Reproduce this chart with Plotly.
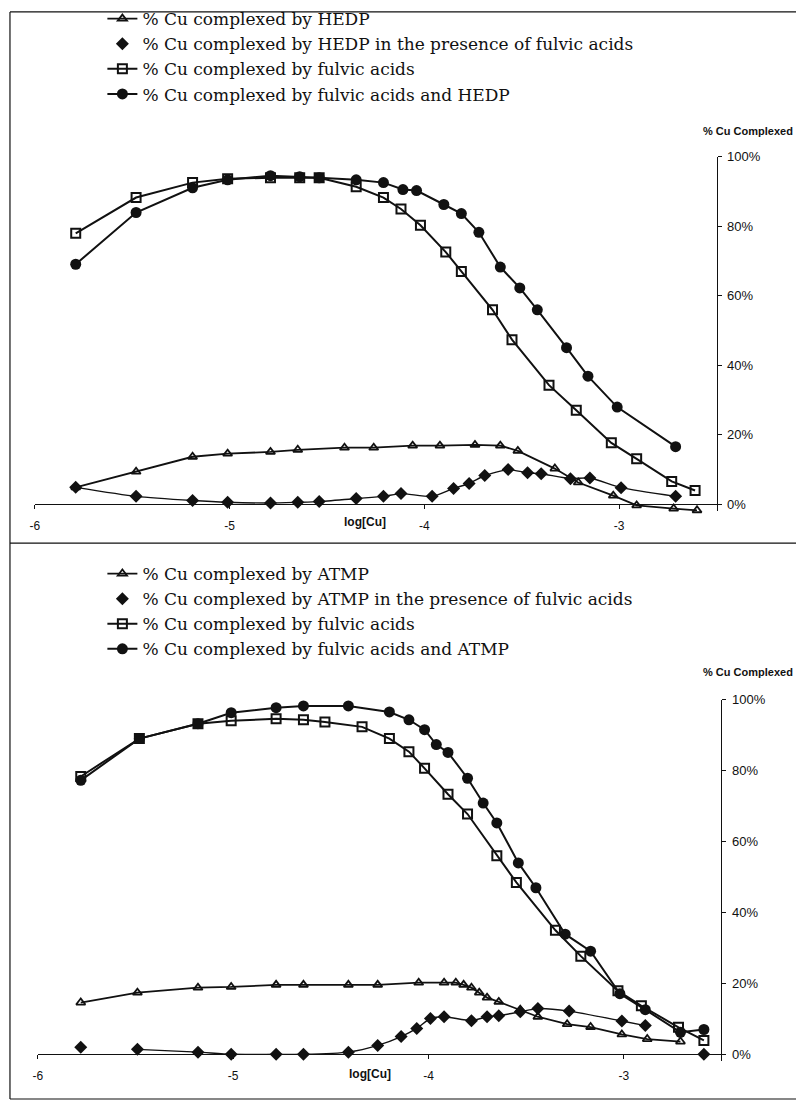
import plotly.graph_objects as go

W, H = 796, 1102

# ---------------- Data: top chart (HEDP) ----------------
hedp_x = [-5.79, -5.48, -5.19, -5.01, -4.79, -4.65, -4.41, -4.26, -4.06, -3.92,
          -3.74, -3.61, -3.52, -3.33, -3.21, -3.03, -2.91, -2.72, -2.60]
hedp_y = [4.9, 9.4, 13.7, 14.6, 15.1, 15.7, 16.3, 16.3, 16.9, 16.9,
          17.1, 16.9, 15.4, 10.3, 6.3, 2.5, -0.3, -1.2, -1.7]

hedp_fa_x = [-5.79, -5.48, -5.19, -5.01, -4.79, -4.65, -4.54, -4.35, -4.21, -4.12,
             -3.96, -3.85, -3.77, -3.69, -3.57, -3.47, -3.40, -3.25, -3.15, -2.99, -2.71]
hedp_fa_y = [4.9, 2.3, 1.1, 0.6, 0.4, 0.6, 0.8, 1.7, 2.3, 3.1,
             2.3, 4.6, 6.0, 8.3, 10.0, 9.1, 8.8, 7.4, 7.6, 4.8, 2.3]

fa1_x = [-5.79, -5.48, -5.19, -5.01, -4.79, -4.64, -4.54, -4.35, -4.21, -4.12,
         -4.02, -3.89, -3.81, -3.65, -3.55, -3.36, -3.22, -3.04, -2.91, -2.73, -2.61]
fa1_y = [78.0, 88.3, 92.6, 93.7, 94.0, 94.0, 94.0, 91.4, 88.3, 85.0,
         80.3, 72.6, 67.0, 56.0, 47.4, 34.3, 27.1, 17.7, 13.1, 6.6, 4.0]

fa_hedp_x = [-5.79, -5.48, -5.19, -5.01, -4.79, -4.64, -4.54, -4.35, -4.21, -4.11,
             -4.04, -3.90, -3.81, -3.72, -3.61, -3.51, -3.42, -3.27, -3.16, -3.01, -2.71]
fa_hedp_y = [69.1, 84.0, 91.1, 93.4, 94.6, 94.3, 94.0, 93.4, 92.6, 90.6,
             90.3, 86.3, 83.7, 78.3, 68.3, 62.3, 56.0, 45.1, 36.9, 28.0, 16.6]

# ---------------- Data: bottom chart (ATMP) ----------------
atmp_x = [-5.78, -5.49, -5.18, -5.01, -4.78, -4.64, -4.41, -4.26, -4.05, -3.92,
          -3.86, -3.82, -3.78, -3.74, -3.70, -3.64, -3.53, -3.44, -3.29, -3.17,
          -3.01, -2.88, -2.71]
atmp_y = [14.6, 17.4, 18.8, 19.0, 19.6, 19.6, 19.6, 19.6, 20.2, 20.2,
          20.2, 19.6, 18.8, 17.4, 16.0, 14.8, 12.6, 10.6, 8.5, 7.7,
          5.6, 4.3, 3.6]

atmp_fa_x = [-5.78, -5.49, -5.18, -5.01, -4.78, -4.64, -4.41, -4.26, -4.14, -4.06,
             -3.99, -3.92, -3.78, -3.70, -3.64, -3.53, -3.44, -3.28, -3.01, -2.89, -2.59]
atmp_fa_y = [2.0, 1.4, 0.6, 0.0, 0.0, 0.0, 0.6, 2.5, 5.0, 7.3,
             10.1, 10.6, 9.5, 10.6, 10.9, 12.0, 12.9, 12.2, 9.4, 8.1, 0.0]

fa2_x = [-5.78, -5.48, -5.18, -5.01, -4.78, -4.64, -4.53, -4.34, -4.20, -4.10,
         -4.02, -3.90, -3.80, -3.65, -3.55, -3.35, -3.22, -3.03, -2.91, -2.72, -2.59]
fa2_y = [78.4, 89.1, 93.3, 94.1, 94.7, 94.4, 93.8, 92.4, 89.1, 85.4,
         80.7, 73.4, 67.8, 56.0, 48.5, 35.0, 27.7, 17.9, 13.7, 7.6, 3.9]

fa_atmp_x = [-5.78, -5.48, -5.18, -5.01, -4.78, -4.64, -4.41, -4.20, -4.10, -4.02,
             -3.96, -3.90, -3.80, -3.72, -3.65, -3.54, -3.45, -3.30, -3.17, -3.02,
             -2.89, -2.71, -2.59]
fa_atmp_y = [77.3, 89.1, 93.3, 96.4, 97.8, 98.3, 98.3, 96.6, 94.4, 91.6,
             87.4, 85.2, 77.9, 70.9, 65.3, 54.0, 47.0, 33.9, 29.1, 17.1,
             12.6, 6.2, 7.0]

x_tickvals = [-6, -5, -4, -3]
x_ticktext = ["-6", "-5", "-4", "-3"]
y_tickvals = [0, 20, 40, 60, 80, 100]
y_ticktext = ["0%", "20%", "40%", "60%", "80%", "100%"]

names_top = ["% Cu complexed by HEDP",
             "% Cu complexed by HEDP in the presence of fulvic acids",
             "% Cu complexed by fulvic acids",
             "% Cu complexed by fulvic acids and HEDP"]
names_bot = ["% Cu complexed by ATMP",
             "% Cu complexed by ATMP in the presence of fulvic acids",
             "% Cu complexed by fulvic acids",
             "% Cu complexed by fulvic acids and ATMP"]


def px(p):
    return p / W


def py(p):
    return 1 - p / H


BLACK = "#111111"
fig = go.Figure()


def add_panel(xa, ya, leg, names, tri_x, tri_y, dia_x, dia_y, sq_x, sq_y, ci_x, ci_y, dia_line_slice):
    fig.add_trace(go.Scatter(x=tri_x, y=tri_y, mode="lines+markers", name=names[0],
                             xaxis=xa, yaxis=ya, legend=leg, cliponaxis=False,
                             line=dict(color=BLACK, width=1.8),
                             marker=dict(symbol="triangle-up-open", size=8, color=BLACK,
                                         line=dict(width=1.8, color=BLACK))))
    fig.add_trace(go.Scatter(x=dia_x[dia_line_slice], y=dia_y[dia_line_slice], mode="lines",
                             showlegend=False, xaxis=xa, yaxis=ya, cliponaxis=False,
                             line=dict(color=BLACK, width=1.4, shape="spline", smoothing=0.6)))
    fig.add_trace(go.Scatter(x=dia_x, y=dia_y, mode="markers", name=names[1],
                             xaxis=xa, yaxis=ya, legend=leg, cliponaxis=False,
                             marker=dict(symbol="diamond", size=10, color=BLACK)))
    fig.add_trace(go.Scatter(x=sq_x, y=sq_y, mode="lines+markers", name=names[2],
                             xaxis=xa, yaxis=ya, legend=leg, cliponaxis=False,
                             line=dict(color=BLACK, width=2),
                             marker=dict(symbol="square-open", size=9, color=BLACK,
                                         line=dict(width=2, color=BLACK))))
    fig.add_trace(go.Scatter(x=ci_x, y=ci_y, mode="lines+markers", name=names[3],
                             xaxis=xa, yaxis=ya, legend=leg, cliponaxis=False,
                             line=dict(color=BLACK, width=2),
                             marker=dict(symbol="circle", size=11, color=BLACK)))


add_panel("x", "y", "legend", names_top, hedp_x, hedp_y, hedp_fa_x, hedp_fa_y,
          fa1_x, fa1_y, fa_hedp_x, fa_hedp_y, slice(None))
add_panel("x2", "y2", "legend2", names_bot, atmp_x, atmp_y, atmp_fa_x, atmp_fa_y,
          fa2_x, fa2_y, fa_atmp_x, fa_atmp_y, slice(1, -1))

xtickfont = dict(family="Liberation Sans, Arial", size=12, color=BLACK)
ytickfont = dict(family="Liberation Sans, Arial", size=13, color=BLACK)


def xaxis_cfg(left, right, pos):
    return dict(domain=[px(left), px(right)], range=[-6, -2.5], anchor="free", position=py(pos),
                tickvals=x_tickvals, ticktext=x_ticktext, ticks="outside", ticklen=4,
                tickcolor=BLACK, showline=True, linecolor=BLACK, linewidth=1,
                showgrid=False, zeroline=False, tickfont=xtickfont, ticklabelstandoff=6)


def yaxis_cfg(top, bottom, xa):
    return dict(domain=[py(bottom), py(top)], range=[-2, 100], side="right", anchor=xa,
                tickvals=y_tickvals, ticktext=y_ticktext, ticks="outside", ticklen=4,
                tickcolor=BLACK, showline=True, linecolor=BLACK, linewidth=1,
                showgrid=False, zeroline=False, tickfont=ytickfont, ticklabelstandoff=3)


# top panel: 0% at y=501px, 100% at 151px (3.5 px per %), -2% at 508px
# bottom panel: 0% at 1055px, 100% at 698px (3.57 px per %), -2% at 1062px
legend_font = dict(family="DejaVu Serif", size=17, color=BLACK)
fig.update_layout(
    width=W, height=H, margin=dict(l=0, r=0, t=0, b=0),
    paper_bgcolor="white", plot_bgcolor="white",
    xaxis=xaxis_cfg(30, 716, 501),
    yaxis=yaxis_cfg(151, 508, "x"),
    xaxis2=xaxis_cfg(33, 721, 1055),
    yaxis2=yaxis_cfg(698, 1062.1, "x2"),
    legend=dict(x=px(98), y=py(-6), xanchor="left", yanchor="top", font=legend_font,
                bgcolor="rgba(0,0,0,0)", tracegroupgap=0, itemwidth=30),
    legend2=dict(x=px(98), y=py(553), xanchor="left", yanchor="top", font=legend_font,
                 bgcolor="rgba(0,0,0,0)", tracegroupgap=0, itemwidth=30),
    showlegend=True,
)

lab_font = dict(family="Liberation Sans, Arial", size=12, color=BLACK)
annotations = [
    dict(text="<b>% Cu Complexed</b>", x=px(795), y=py(125), xref="paper", yref="paper",
         xanchor="right", yanchor="middle", showarrow=False, font=dict(lab_font, size=11)),
    dict(text="<b>% Cu Complexed</b>", x=px(795), y=py(670), xref="paper", yref="paper",
         xanchor="right", yanchor="middle", showarrow=False, font=dict(lab_font, size=11)),
    dict(text="<b>log[Cu]</b>", x=px(362), y=py(519), xref="paper", yref="paper",
         xanchor="center", yanchor="middle", showarrow=False, font=lab_font),
    dict(text="<b>log[Cu]</b>", x=px(367), y=py(1075), xref="paper", yref="paper",
         xanchor="center", yanchor="middle", showarrow=False, font=lab_font),
]
fig.update_layout(annotations=annotations)

frame = dict(color=BLACK, width=1.2)
shapes = [
    dict(type="line", xref="paper", yref="paper", x0=px(5), x1=px(5), y0=py(5), y1=py(1100), line=frame),
    dict(type="line", xref="paper", yref="paper", x0=px(5), x1=1, y0=py(5), y1=py(5), line=frame),
    dict(type="line", xref="paper", yref="paper", x0=px(5), x1=1, y0=py(540), y1=py(540), line=frame),
    dict(type="line", xref="paper", yref="paper", x0=px(5), x1=1, y0=py(1100), y1=py(1100), line=frame),
]
fig.update_layout(shapes=shapes)

fig.write_html("out.html", config={"displayModeBar": False},
               post_script="document.body.style.margin='0';document.body.style.overflow='hidden';")
